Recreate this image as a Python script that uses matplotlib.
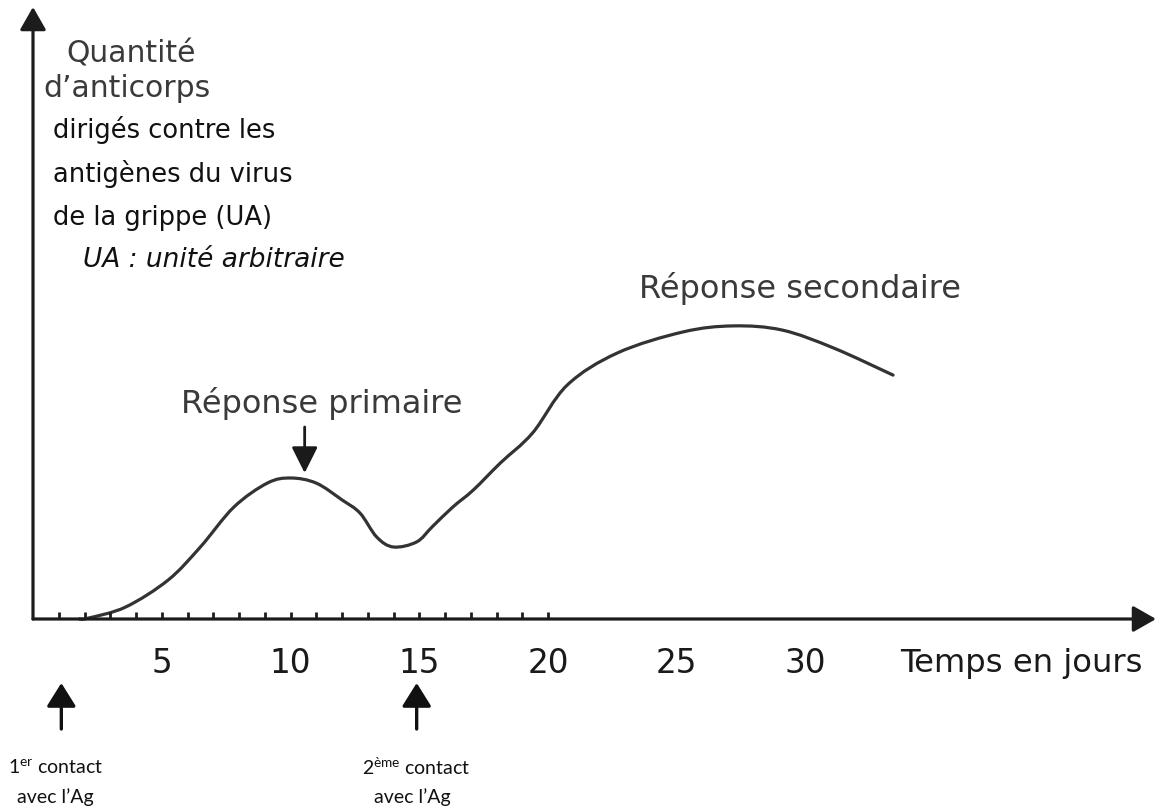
import matplotlib
matplotlib.use("Agg")
import matplotlib.pyplot as plt
from matplotlib.path import Path
from matplotlib.patches import PathPatch

# ---- data ----
days = [1.8, 2.15, 3.6, 5.25, 6.5, 7.8, 9.1, 10.0, 11.0, 12.0, 12.7, 13.35,
        14.0, 14.9, 15.5, 16.3, 17.1, 18.15, 19.4, 20.75, 22.7, 25.25, 27.2,
        29.1, 31.1, 33.4]
antibodies = [0, 0.3, 4.0, 13.0, 24.0, 37.3, 45.3, 47.0, 45.3, 39.7, 35.3,
              27.3, 24.0, 25.7, 30.7, 37.3, 43.0, 52.0, 62.0, 78.0, 88.7,
              95.7, 97.7, 96.3, 90.3, 81.3]
minor_ticks = list(range(1, 21))
major_ticks = [5, 10, 15, 20, 25, 30]
major_labels = ["5", "10", "15", "20", "25", "30"]
contact_days = [1.1, 14.9]
primary_peak_day = 10.55

plt.rcParams['mathtext.fontset'] = 'custom'
plt.rcParams['mathtext.rm'] = 'Lato'
plt.rcParams['mathtext.it'] = 'Lato:italic'

W, H = 1161, 809
fig = plt.figure(figsize=(W / 100, H / 100), dpi=100)
ax = fig.add_axes([0, 0, 1, 1])

# pixel mapping: x_px = 33 + 25.75*day ; y_px = 619 - 3*value
X0, SX = 33.0, 25.75
Y0, SY = 619.0, 3.0
ax.set_xlim(-X0 / SX, (W - X0) / SX)
ax.set_ylim(-(H - Y0) / SY, Y0 / SY)

def px(xp):
    return (xp - X0) / SX

def py(yp):
    return (Y0 - yp) / SY

axis_col = "#1c1c1c"

# axes with arrows
ax_arrow = dict(arrowstyle="-|>,head_length=0.7,head_width=0.4",
                mutation_scale=20, lw=2.3, color=axis_col, shrinkA=0, shrinkB=0)
ax.annotate("", xy=(px(1156), 0), xytext=(0, 0), arrowprops=ax_arrow)
ax.annotate("", xy=(0, py(7)), xytext=(0, 0), arrowprops=ax_arrow)

for s in ["top", "right", "left", "bottom"]:
    ax.spines[s].set_visible(False)
ax.spines["bottom"].set_position(("data", 0))
ax.xaxis.remove_overlapping_locs = False
ax.set_xticks(major_ticks)
ax.set_xticklabels(major_labels, fontsize=23.5, family="DejaVu Sans", color="#1a1a1a")
ax.set_xticks(minor_ticks, minor=True)
ax.tick_params(axis="x", which="major", length=0, pad=20)
ax.tick_params(axis="x", which="minor", direction="in", length=5, width=2, color=axis_col)
ax.set_yticks([])

# smooth curve through the data points (Catmull-Rom rendered as Bezier path)
pts = list(zip(days, antibodies))
verts = [pts[0]]
codes = [Path.MOVETO]
n = len(pts)
for i in range(n - 1):
    p0 = pts[i - 1] if i > 0 else pts[i]
    p1 = pts[i]
    p2 = pts[i + 1]
    p3 = pts[i + 2] if i + 2 < n else pts[i + 1]
    c1 = (p1[0] + (p2[0] - p0[0]) / 6, p1[1] + (p2[1] - p0[1]) / 6)
    c2 = (p2[0] - (p3[0] - p1[0]) / 6, p2[1] - (p3[1] - p1[1]) / 6)
    verts += [c1, c2, p2]
    codes += [Path.CURVE4] * 3
ax.add_patch(PathPatch(Path(verts, codes), fill=False, edgecolor="#333333",
                       lw=2.3, capstyle="round", joinstyle="round"))

# primary response arrow
ax.annotate("", xy=(primary_peak_day, py(473)), xytext=(primary_peak_day, py(427)),
            arrowprops=dict(arrowstyle="-|>,head_length=0.8,head_width=0.4",
                            mutation_scale=20, lw=2.0, color="#1a1a1a",
                            shrinkA=0, shrinkB=0))

# contact arrows
for d in contact_days:
    ax.annotate("", xy=(d, py(683)), xytext=(d, py(729)),
                arrowprops=dict(arrowstyle="-|>,head_length=0.72,head_width=0.45",
                                mutation_scale=20, lw=2.4, color="#111111",
                                shrinkA=0, shrinkB=0))

# texts
txt_col = "#3a3a3a"
ax.text(px(66), py(63), "Quantité", fontsize=21.5, family="DejaVu Sans",
        color=txt_col, va="baseline", ha="left")
ax.text(px(43), py(97), "d\u2019anticorps", fontsize=21.5, family="DejaVu Sans",
        color=txt_col, va="baseline", ha="left")
for line, yb in [("dirigés contre les", 138), ("antigènes du virus", 182),
                 ("de la grippe (UA)", 225)]:
    ax.text(px(53), py(yb), line, fontsize=18.5, family="DejaVu Sans",
            color="#111111", va="baseline", ha="left")
ax.text(px(83), py(267), "UA : unité arbitraire", fontsize=19,
        family="DejaVu Sans", style="italic", color="#111111",
        va="baseline", ha="left")

ax.text(px(322), py(413), "Réponse primaire", fontsize=23, family="DejaVu Sans",
        color=txt_col, va="baseline", ha="center")
ax.text(px(800), py(298), "Réponse secondaire", fontsize=23, family="DejaVu Sans",
        color=txt_col, va="baseline", ha="center")
ax.text(px(1143), py(672), "Temps en jours", fontsize=23.2, family="DejaVu Sans",
        color="#1a1a1a", va="baseline", ha="right")

# bottom labels
ax.text(px(8), py(767), r"1$^{\mathrm{er}}$ contact", fontsize=14, family="Lato",
        color="#111111", va="center", ha="left")
ax.text(px(55), py(797), "avec l\u2019Ag", fontsize=14, family="Lato",
        color="#111111", va="center", ha="center")
ax.text(px(362), py(767), r"2$^{\mathrm{ème}}$ contact", fontsize=14, family="Lato",
        color="#111111", va="center", ha="left")
ax.text(px(412), py(797), "avec l\u2019Ag", fontsize=14, family="Lato",
        color="#111111", va="center", ha="center")

fig.savefig("out.png", dpi=100, facecolor="white")
